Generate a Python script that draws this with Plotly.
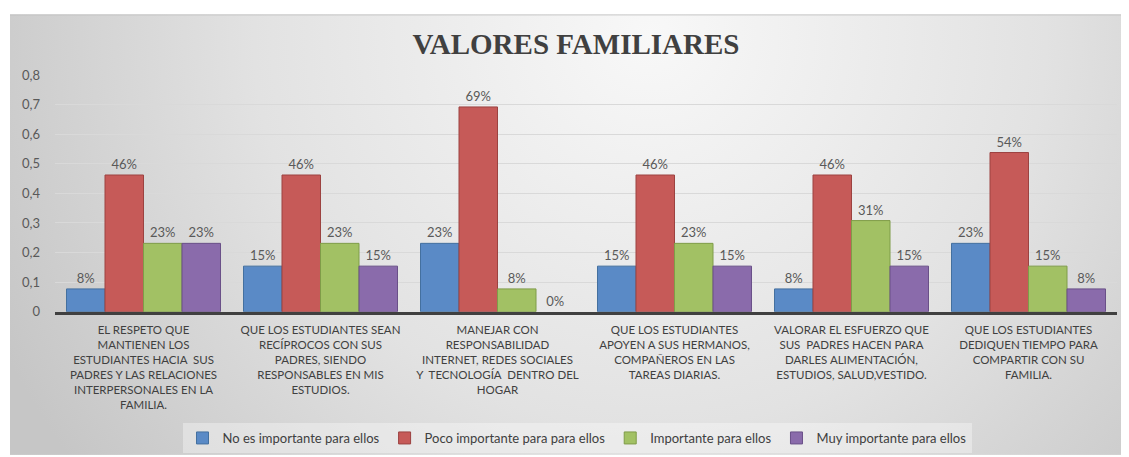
import base64
import plotly.graph_objects as go

categories = [
    "EL RESPETO QUE<br>MANTIENEN LOS<br>ESTUDIANTES HACIA  SUS<br>PADRES Y LAS RELACIONES<br>INTERPERSONALES EN LA<br>FAMILIA.",
    "QUE LOS ESTUDIANTES SEAN<br>RECÍPROCOS CON SUS<br>PADRES, SIENDO<br>RESPONSABLES EN MIS<br>ESTUDIOS.",
    "MANEJAR CON<br>RESPONSABILIDAD<br>INTERNET, REDES SOCIALES<br>Y  TECNOLOGÍA  DENTRO DEL<br>HOGAR",
    "QUE LOS ESTUDIANTES<br>APOYEN A SUS HERMANOS,<br>COMPAÑEROS EN LAS<br>TAREAS DIARIAS.",
    "VALORAR EL ESFUERZO QUE<br>SUS  PADRES HACEN PARA<br>DARLES ALIMENTACIÓN,<br>ESTUDIOS, SALUD,VESTIDO.",
    "QUE LOS ESTUDIANTES<br>DEDIQUEN TIEMPO PARA<br>COMPARTIR CON SU<br>FAMILIA.",
]

series_names = [
    "No es importante para ellos",
    "Poco importante para para ellos",
    "Importante para ellos",
    "Muy importante para ellos",
]

no_es_importante = [0.077, 0.154, 0.231, 0.154, 0.077, 0.231]
poco_importante = [0.462, 0.462, 0.692, 0.462, 0.462, 0.538]
importante = [0.231, 0.231, 0.077, 0.231, 0.308, 0.154]
muy_importante = [0.231, 0.154, 0.0, 0.154, 0.154, 0.077]

y_tick_values = [0, 0.1, 0.2, 0.3, 0.4, 0.5, 0.6, 0.7, 0.8]
y_tick_labels = ["0", "0,1", "0,2", "0,3", "0,4", "0,5", "0,6", "0,7", "0,8"]

title_text = "VALORES FAMILIARES"

fills = ["#5a8ac6", "#c65a58", "#a2c164", "#8a6bab"]
edges = ["#44709f", "#9c4240", "#7f9c48", "#6a5088"]

# page body has an 8px margin; figure occupies the rest of the 1129x457 window
OFF = 8
W, H = 1129 - OFF, 457 - OFF
ML, MR, MT, MB = 55 - OFF, 12, 75 - OFF, H - (313 - OFF)
PW, PH = W - ML - MR, H - MT - MB

BGX, BGY = 10 - OFF, 14 - OFF
BGW, BGH = W - BGX, H - BGY

svg = (
    f"<svg xmlns='http://www.w3.org/2000/svg' width='{BGW}' height='{BGH}'>"
    "<defs><radialGradient id='g' gradientUnits='userSpaceOnUse' cx='640' cy='20' r='720'>"
    "<stop offset='0' stop-color='#f8f8f8'/><stop offset='0.55' stop-color='#e2e2e2'/>"
    "<stop offset='1' stop-color='#c6c6c6'/></radialGradient></defs>"
    f"<rect width='{BGW}' height='{BGH}' fill='url(#g)'/>"
    f"<line x1='0' y1='0.5' x2='{BGW}' y2='0.5' stroke='#bdbdbd' stroke-width='1'/></svg>"
)
bg_src = "data:image/svg+xml;base64," + base64.b64encode(svg.encode()).decode()

fig = go.Figure()
for name, vals, fc, ec in zip(series_names,
                              [no_es_importante, poco_importante, importante, muy_importante],
                              fills, edges):
    fig.add_trace(go.Bar(
        x=categories, y=vals, name=name,
        marker=dict(color=fc, line=dict(color=ec, width=[1 if v > 0 else 0 for v in vals])),
        texttemplate="%{y:.0%}", textposition="outside",
        textfont=dict(family="Lato, sans-serif", size=13, color="#595959"),
        cliponaxis=False,
    ))

fig.update_layout(
    width=W, height=H,
    margin=dict(l=ML, r=MR, t=MT, b=MB),
    paper_bgcolor="white",
    plot_bgcolor="rgba(0,0,0,0)",
    separators=",.",
    barmode="group",
    bargap=0.13,
    bargroupgap=0,
    title=dict(text="<b>" + title_text + "</b>", x=(576 - OFF) / W, xanchor="center",
               y=1 - (44 - OFF) / H, yanchor="middle",
               font=dict(family="Liberation Serif, Times New Roman, serif", size=29, color="#404040")),
    font=dict(family="Lato, sans-serif", color="#404040"),
    showlegend=True,
    legend=dict(orientation="h", x=(577 - OFF) / W, xanchor="center",
                xref="container", y=(H - (438 - OFF)) / H, yref="container", yanchor="middle",
                bgcolor="rgba(255,255,255,0.35)",
                font=dict(family="Lato, sans-serif", size=13, color="#404040"),
                traceorder="normal"),
    images=[dict(source=bg_src, xref="paper", yref="paper",
                 x=(BGX - ML) / PW, y=(H - MB - BGY) / PH,
                 sizex=BGW / PW, sizey=BGH / PH,
                 xanchor="left", yanchor="top", sizing="stretch", layer="below")],
)

fig.update_xaxes(
    showline=True, linecolor="#404040", linewidth=2.5,
    showgrid=False, ticks="",
    tickfont=dict(family="Liberation Sans Narrow, Lato, sans-serif", size=11.5, color="#404040"),
    ticklabelstandoff=6,
)
fig.update_yaxes(
    range=[0, 0.8], tickvals=y_tick_values, ticktext=y_tick_labels,
    showgrid=True, gridcolor="#d9d9d9", gridwidth=1,
    zeroline=False, showline=False, ticks="",
    tickfont=dict(family="Lato, sans-serif", size=13, color="#595959"),
    ticklabelstandoff=14,
)

fig.write_html("out.html")
